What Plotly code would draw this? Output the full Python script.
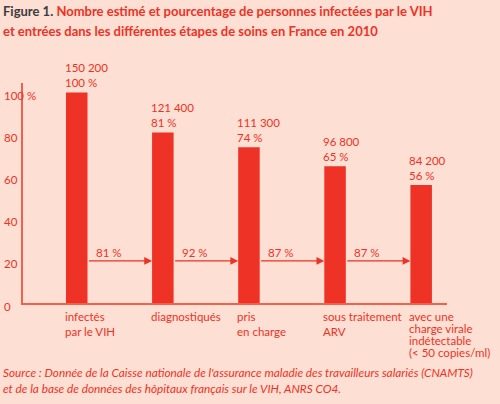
import plotly.graph_objects as go

categories = ["infectés<br>par le VIH", "diagnostiqués", "pris<br>en charge",
              "sous traitement<br>ARV", "avec une<br>charge virale<br>indétectable<br>(< 50 copies/ml)"]
counts = ["150 200", "121 400", "111 300", "96 800", "84 200"]
percents = [100, 81, 74, 65, 56]
step_rates = ["81 %", "92 %", "87 %", "87 %"]
y_ticks = [0, 20, 40, 60, 80, 100]

BG = "#FDDFD3"
RED = "#EE3226"
LINE = "#F0604F"
FONT = "Lato"
FS = 11.5

W, H = 500, 404
L, R, T, B = 23, 53, 83, 101
PW = W - L - R
PH = H - T - B


def px2x(px):
    return (px - L) / PW


def py2y(py):
    return (H - B - py) / PH


xs = list(range(len(categories)))
bw = 0.25

fig = go.Figure()
fig.add_trace(go.Bar(x=xs, y=percents, width=bw, marker=dict(color=RED, line=dict(width=0)),
                     hoverinfo="skip"))

ann = []
# value labels above bars
for i, (c, p) in enumerate(zip(counts, percents)):
    ann.append(dict(x=i - bw / 2, y=p, xref="x", yref="y", text=f"{c}<br>{p} %",
                    xanchor="left", yanchor="bottom", showarrow=False, align="left",
                    yshift=1, xshift=-3, font=dict(size=FS, color=RED, family=FONT)))
# arrows and rates
for i, r in enumerate(step_rates):
    ann.append(dict(x=i + 1 - bw / 2, y=20, ax=i + bw / 2, ay=20, xref="x", yref="y",
                    axref="x", ayref="y", text="", showarrow=True, arrowhead=2,
                    arrowsize=1.3, arrowwidth=1.2, arrowcolor=RED, standoff=0, startstandoff=0))
    ann.append(dict(x=i + bw / 2 + 0.07, y=20, xref="x", yref="y", text=r, xanchor="left",
                    yanchor="bottom", showarrow=False, yshift=0,
                    font=dict(size=FS, color=RED, family=FONT)))
# category labels, one annotation per line
for i, c in enumerate(categories):
    lines = c.split("<br>")
    sp = 12 if len(lines) > 2 else 15
    for k, ln in enumerate(lines):
        ann.append(dict(x=i - bw / 2, y=py2y(316 + k * sp), xref="x", yref="paper", text=ln,
                        xanchor="left", yanchor="middle", showarrow=False, xshift=-3,
                        font=dict(size=FS, color=RED, family=FONT)))
# y tick labels (left aligned)
for v in y_ticks:
    ann.append(dict(x=px2x(2), y=v, xref="paper", yref="y", text=str(v), xanchor="left",
                    yanchor="middle", showarrow=False, yshift=-3,
                    font=dict(size=FS, color=RED, family=FONT)))
ann.append(dict(x=px2x(25), y=100, xref="paper", yref="y", text="%", xanchor="left",
                yanchor="middle", showarrow=False, yshift=-3,
                font=dict(size=FS, color=RED, family=FONT)))
# title
ann.append(dict(x=px2x(1), y=py2y(11), xref="paper", yref="paper",
                text="<b><span style='color:#3C3C3C'>Figure 1.</span> Nombre estimé et pourcentage de personnes infectées par le VIH</b>",
                xanchor="left", yanchor="middle", showarrow=False,
                font=dict(size=13, color=RED, family=FONT)))
ann.append(dict(x=px2x(1), y=py2y(31), xref="paper", yref="paper",
                text="<b>et entrées dans les différentes étapes de soins en France en 2010</b>",
                xanchor="left", yanchor="middle", showarrow=False,
                font=dict(size=13, color=RED, family=FONT)))
# source
ann.append(dict(x=px2x(1), y=py2y(372), xref="paper", yref="paper",
                text="<i>Source : Donnée de la Caisse nationale de l'assurance maladie des travailleurs salariés (CNAMTS)</i>",
                xanchor="left", yanchor="middle", showarrow=False,
                font=dict(size=11.8, color=RED, family=FONT)))
ann.append(dict(x=px2x(1), y=py2y(388), xref="paper", yref="paper",
                text="<i>et de la base de données des hôpitaux français sur le VIH, ANRS CO4.</i>",
                xanchor="left", yanchor="middle", showarrow=False,
                font=dict(size=11.8, color=RED, family=FONT)))

fig.update_layout(
    width=W, height=H, margin=dict(l=L, r=R, t=T, b=B),
    paper_bgcolor=BG, plot_bgcolor=BG, showlegend=False,
    xaxis=dict(range=[-0.624, 4.30], showline=True, linecolor=LINE, linewidth=1.5,
               showticklabels=False, showgrid=False, zeroline=False, ticks=""),
    yaxis=dict(range=[0, 104.5], showline=True, linecolor=LINE, linewidth=1.5,
               showticklabels=False, showgrid=False, zeroline=False, ticks=""),
    annotations=ann,
    font=dict(family=FONT, color=RED),
)
fig.write_html("out.html", config={"displayModeBar": False},
               post_script="document.body.style.margin='0';")
